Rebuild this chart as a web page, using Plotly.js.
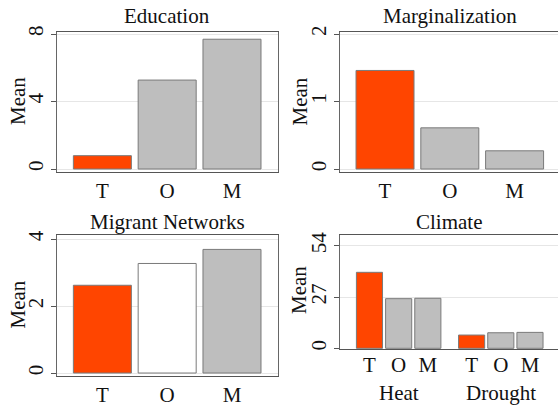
<!DOCTYPE html>
<html>
<head>
<meta charset="utf-8">
<script src="https://cdn.plot.ly/plotly-3.0.1.min.js"></script>
<style>html,body{margin:0;padding:0;background:#fff;}#chart{width:558px;height:406px;}</style>
</head>
<body>
<div id="chart"></div>
<script>
// ---- data ----
const categories = ["T", "O", "M"];
const panelTitles = ["Education", "Marginalization", "Migrant Networks", "Climate"];
const educationMeans = [0.79, 5.27, 7.69];
const marginalizationMeans = [1.46, 0.61, 0.27];
const networkMeans = [2.62, 3.27, 3.69];
const climateGroups = ["Heat", "Drought"];
const heatMeans = [40.1, 26.2, 26.4];
const droughtMeans = [7.0, 8.2, 8.4];
const yTicks1 = [0, 4, 8];
const yTicks2 = [0, 1, 2];
const yTicks3 = [0, 2, 4];
const yTicks4 = [0, 27, 54];
const yTitle = "Mean";

// ---- styles ----
const RED = "#FF4500", GRAY = "#BEBEBE", WHITE = "#FFFFFF";
const FONT = "Liberation Serif";
const TXT = "#111111";
const barLine = {color: "#7a7a7a", width: 1};

function bar(x, y, colors, xa, ya) {
  return {type: "bar", x: x, y: y, xaxis: xa, yaxis: ya,
    marker: {color: colors, line: barLine}, hoverinfo: "x+y"};
}

// climate positions: groups separated by an extra half slot
const climateX = [], climateY = [], climateText = [], climateColors = [];
[heatMeans, droughtMeans].forEach((vals, g) => {
  vals.forEach((v, j) => {
    climateX.push(g * (categories.length + 0.5) + j);
    climateY.push(v);
    climateText.push(categories[j]);
    climateColors.push(j === 0 ? RED : GRAY);
  });
});
const groupCenters = climateGroups.map((g, i) => i * (categories.length + 0.5) + (categories.length - 1) / 2);

const data = [
  bar(categories, educationMeans, [RED, GRAY, GRAY], "x", "y"),
  bar(categories, marginalizationMeans, [RED, GRAY, GRAY], "x2", "y2"),
  bar(categories, networkMeans, [RED, WHITE, GRAY], "x3", "y3"),
  bar(climateX, climateY, climateColors, "x4", "y4")
];

const W = 558, H = 406;
const px = v => v / W;
const py = v => 1 - v / H;

function xax(anchor, domain, range, extra) {
  return Object.assign({
    anchor: anchor, domain: domain, range: range, showline: true, linecolor: "#555", linewidth: 1,
    mirror: true, ticks: "", showgrid: false, zeroline: false, fixedrange: true,
    tickfont: {family: FONT, size: 21, color: TXT}
  }, extra || {});
}
function yax(anchor, domain, range, ticks, mirror) {
  return {
    anchor: anchor, domain: domain, range: range, tickmode: "array", tickvals: ticks, ticktext: ticks.map(String),
    ticks: "outside", ticklen: 5, tickcolor: "#555", tickangle: -90,
    showline: true, linecolor: "#666", linewidth: 1, mirror: mirror,
    showgrid: true, gridcolor: "#e6e6e6", gridwidth: 1, zeroline: false, fixedrange: true,
    tickfont: {family: FONT, size: 21, color: TXT}
  };
}

const xL = [px(57), px(278)], xR = [px(340), 1];
const yT = [py(172), py(31.5)];
const yB3 = [py(375.7), py(235)];
const yB4 = [py(349), py(235)];

function ann(text, x, y, extra) {
  return Object.assign({text: text, x: x, y: y, xref: "paper", yref: "paper",
    showarrow: false, xanchor: "center", yanchor: "middle",
    font: {family: FONT, size: 21, color: TXT}}, extra || {});
}

const annotations = [
  ann(panelTitles[0], px(167.5), py(16)),
  ann(panelTitles[1], px(449.5), py(16)),
  ann(panelTitles[2], px(167.5), py(222)),
  ann(panelTitles[3], px(449.5), py(222)),
  ann(yTitle, px(17.5), py(101.5), {textangle: -90}),
  ann(yTitle, px(299), py(101.5), {textangle: -90}),
  ann(yTitle, px(17.5), py(305), {textangle: -90}),
  ann(yTitle, px(299), py(290), {textangle: -90})
];
climateGroups.forEach((g, i) => {
  annotations.push({text: g, x: groupCenters[i], y: py(393), xref: "x4", yref: "paper",
    showarrow: false, xanchor: "center", yanchor: "middle",
    font: {family: FONT, size: 21, color: TXT}});
});

const layout = {
  width: W, height: H, margin: {l: 0, r: 0, t: 0, b: 0},
  paper_bgcolor: "#fff", plot_bgcolor: "#fff", showlegend: false,
  font: {family: FONT, size: 21, color: TXT},
  bargap: 0.105,
  xaxis: xax("y", xL, [-0.70, 2.71]),
  yaxis: yax("x", yT, [-0.178, 8.148], yTicks1, true),
  xaxis2: xax("y2", xR, [-0.695, 2.67]),
  yaxis2: yax("x2", yT, [-0.044, 2.037], yTicks2, false),
  xaxis3: xax("y3", xL, [-0.70, 2.71]),
  yaxis3: yax("x3", yB3, [-0.08, 4.12], yTicks3, true),
  xaxis4: xax("y4", xR, [-1.01, 6.46], {type: "linear", tickmode: "array", tickvals: climateX, ticktext: climateText, ticklabelstandoff: -3}),
  yaxis4: yax("x4", yB4, [-0.37, 59.8], yTicks4, false),
  annotations: annotations
};

Plotly.newPlot("chart", data, layout, {displayModeBar: false, staticPlot: true});
</script>
</body>
</html>
